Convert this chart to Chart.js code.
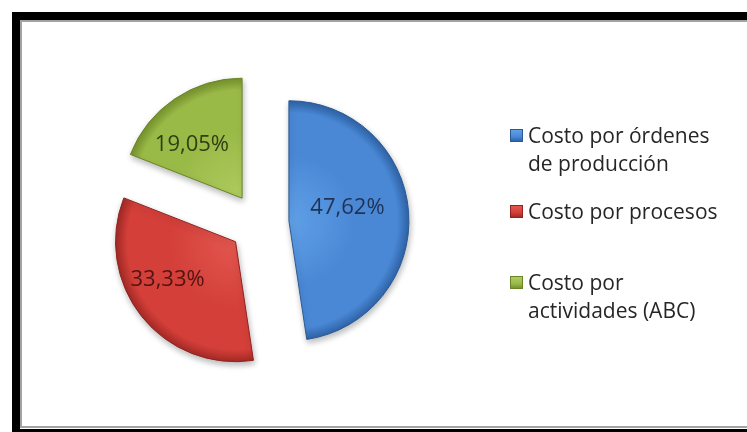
<!DOCTYPE html>
<html>
<head>
<meta charset="utf-8">
<script src="https://cdn.jsdelivr.net/npm/chart.js@4.4.1/dist/chart.umd.min.js"></script>
<style>
  html, body { margin: 0; padding: 0; background: #fff; overflow: hidden; }
  body { width: 747px; height: 432px; position: relative; font-family: "Open Sans", sans-serif; }
  #frameTop { position: absolute; left: 12px; top: 12px; width: 735px; height: 8px; background: #000; }
  #frameLeft { position: absolute; left: 12px; top: 12px; width: 8px; height: 420px; background: #000; }
  #frameBottom { position: absolute; left: 12px; top: 429px; width: 735px; height: 3px; background: #000; }
  #paperTop { position: absolute; left: 20px; top: 20px; width: 727px; height: 2px; background: #a3a3a3; }
  #paperLeft { position: absolute; left: 20px; top: 20px; width: 2px; height: 408px; background: #a3a3a3; }
  #paperBottom { position: absolute; left: 20px; top: 426px; width: 727px; height: 2px; background: #a3a3a3; }
  #chart { position: absolute; left: 0; top: 0; }
  #legend { position: absolute; left: 0; top: 0; }
  .item { position: absolute; left: 528px; font-size: 21px; line-height: 28px; color: #262626; white-space: nowrap; }
  .swatch { position: absolute; width: 13px; height: 13px; box-sizing: border-box; }
</style>
</head>
<body>
<div id="frameTop"></div><div id="frameLeft"></div><div id="frameBottom"></div>
<div id="paperTop"></div><div id="paperLeft"></div><div id="paperBottom"></div>
<canvas id="chart" width="747" height="432"></canvas>
<div id="legend"></div>
<script>
const categories = [
  ['Costo por órdenes', 'de producción'],
  ['Costo por procesos'],
  ['Costo por', 'actividades (ABC)']
];
const shares = [47.62, 33.33, 19.05];

const baseColors = ['#4a88d6', '#d43f39', '#9aba48'];
const lightColors = ['#60a0e6', '#e2574f', '#afcc60'];
const darkColors = ['#2f64a8', '#a52a26', '#77942e'];
const edgeColors = ['#2a5a95', '#8e2320', '#6a8527'];
const labelColors = ['#1f3354', '#4f1512', '#2f3f12'];

const RADIUS = 120;
const EXPLODE = 30;

function fmtPct(v) {
  return v.toFixed(2).replace('.', ',') + '%';
}

// mid angle of slice i, measured like Chart.js (0 = 3 o'clock, clockwise, start at top)
function midAngle(i) {
  const total = shares.reduce((a, b) => a + b, 0);
  let before = 0;
  for (let k = 0; k < i; k++) before += shares[k];
  return -Math.PI / 2 + (before + shares[i] / 2) / total * Math.PI * 2;
}

function sliceFill(ctx) {
  const i = ctx.dataIndex;
  const area = ctx.chart.chartArea;
  if (!area) return baseColors[i];
  const cx = (area.left + area.right) / 2;
  const cy = (area.top + area.bottom) / 2;
  const a = midAngle(i);
  const ax = cx + Math.cos(a) * EXPLODE;
  const ay = cy + Math.sin(a) * EXPLODE;
  const g = ctx.chart.ctx.createRadialGradient(ax, ay, 0, ax, ay, RADIUS);
  g.addColorStop(0, lightColors[i]);
  g.addColorStop(0.55, baseColors[i]);
  g.addColorStop(0.9, baseColors[i]);
  g.addColorStop(1, darkColors[i]);
  return g;
}

// pull every slice away from the centre along its own mid angle
const explodePlugin = {
  id: 'explode',
  afterDatasetsUpdate(chart, args, opts) {
    chart.getDatasetMeta(0).data.forEach(arc => {
      const mid = (arc.startAngle + arc.endAngle) / 2;
      arc.x += Math.cos(mid) * opts.distance;
      arc.y += Math.sin(mid) * opts.distance;
    });
  }
};

const shadowPlugin = {
  id: 'softShadow',
  beforeDatasetsDraw(chart) {
    const c = chart.ctx;
    c.save();
    c.shadowColor = 'rgba(0,0,0,0.28)';
    c.shadowBlur = 6;
    c.shadowOffsetX = 1;
    c.shadowOffsetY = 3;
  },
  afterDatasetsDraw(chart) {
    chart.ctx.restore();
  }
};

const pctLabels = {
  id: 'pctLabels',
  afterDatasetsDraw(chart, args, opts) {
    const c = chart.ctx;
    const ds = chart.data.datasets[0];
    c.save();
    c.font = opts.font;
    c.textAlign = 'center';
    c.textBaseline = 'middle';
    chart.getDatasetMeta(0).data.forEach((arc, i) => {
      const mid = (arc.startAngle + arc.endAngle) / 2 + opts.turn[i];
      const r = arc.outerRadius * opts.dist[i];
      c.fillStyle = labelColors[i];
      c.fillText(fmtPct(ds.data[i]), arc.x + Math.cos(mid) * r, arc.y + Math.sin(mid) * r);
    });
    c.restore();
  }
};

new Chart(document.getElementById('chart'), {
  type: 'pie',
  data: {
    labels: categories,
    datasets: [{
      data: shares,
      backgroundColor: sliceFill,
      borderColor: edgeColors,
      borderWidth: 1
    }]
  },
  options: {
    responsive: false,
    animation: false,
    radius: RADIUS,
    layout: { padding: { left: 20, right: 249, top: 20, bottom: 6 } },
    plugins: {
      legend: { display: false },
      tooltip: { enabled: false },
      explode: { distance: EXPLODE },
      pctLabels: {
        font: '22px "Open Sans"',
        dist: [0.5, 0.65, 0.61],
        turn: [-0.145, 0.16, -0.157]
      }
    }
  },
  plugins: [explodePlugin, shadowPlugin, pctLabels]
});

// legend on the right, one block per category
const legendTops = [121, 197, 268];
const legend = document.getElementById('legend');
categories.forEach((lines, i) => {
  const sw = document.createElement('div');
  sw.className = 'swatch';
  sw.style.left = '510px';
  sw.style.top = (legendTops[i] + 8) + 'px';
  sw.style.background = `linear-gradient(${lightColors[i]}, ${baseColors[i]} 60%, ${darkColors[i]})`;
  sw.style.border = `1px solid ${edgeColors[i]}`;
  legend.appendChild(sw);

  const item = document.createElement('div');
  item.className = 'item';
  item.style.top = legendTops[i] + 'px';
  item.innerHTML = lines.join('<br>');
  legend.appendChild(item);
});
</script>
</body>
</html>
